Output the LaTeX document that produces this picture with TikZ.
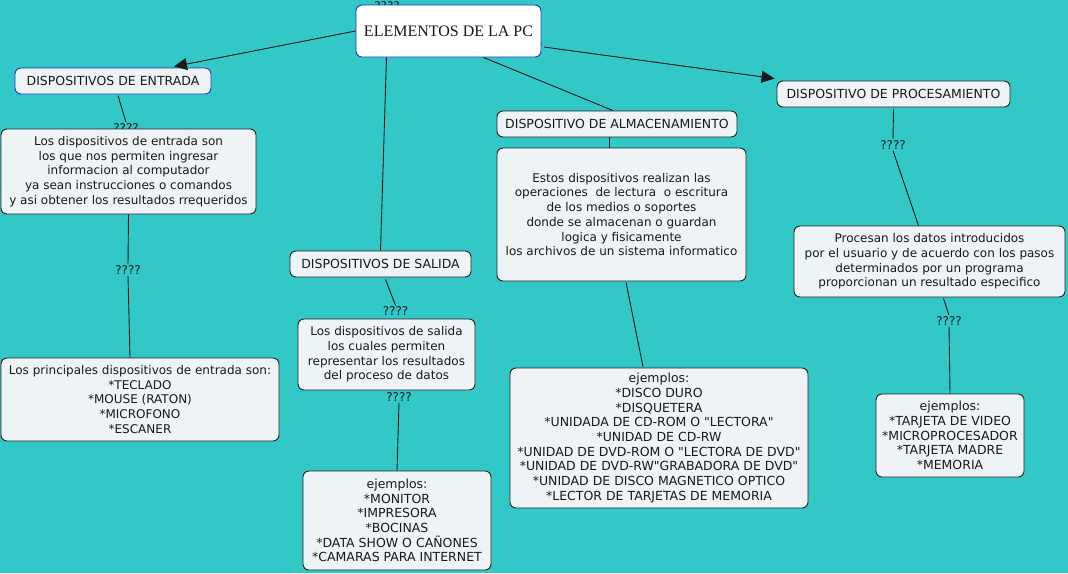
\documentclass[tikz,border=0pt]{standalone}
\usepackage{fontspec}
\setmainfont{DejaVu Sans}[Ligatures=TeXOff]
\newfontfamily\titlefont{Liberation Serif}
\usetikzlibrary{arrows.meta}
\definecolor{bgteal}{RGB}{51,200,200}
\definecolor{boxfill}{RGB}{238,244,246}
\definecolor{boxline}{RGB}{34,34,34}
\definecolor{blueline}{RGB}{25,55,190}
\definecolor{inkc}{RGB}{25,25,25}
\begin{document}
\begin{tikzpicture}[x=1pt,y=-1pt,
  concept/.style={draw=boxline,fill=boxfill,rounded corners=6pt,line width=0.9pt,
     inner sep=0pt,align=center,text=inkc,font=\fontsize{12}{14.7}\selectfont},
  capsbox/.style={concept,font=\fontsize{12.5}{14.7}\selectfont},
  bluebox/.style={capsbox,draw=blueline},
  linkph/.style={inner sep=1pt,text=inkc,font=\fontsize{12}{14}\selectfont},
  conn/.style={draw=inkc,line width=0.9pt},
  arr/.style={conn,-{Triangle[length=13pt,width=12pt]}}]
\useasboundingbox[fill=bgteal] (0,0) rectangle (1068,573);
% linking phrases (drawn first, some are partly covered by concepts)
\node[linkph] (qtop) at (387,6) {????};
\node[linkph] (qright) at (530,47) {????};
\node[linkph] (q1) at (126,128) {????};
\node[linkph] (q2) at (128,270) {????};
\node[linkph] (q3) at (395.5,311) {????};
\node[linkph] (q4) at (399,397) {????};
\node[linkph] (q5) at (893,145) {????};
\node[linkph] (q6) at (949,321) {????};
% concepts
\node[bluebox,fill=white,minimum width=185pt,minimum height=52pt,font=\titlefont\fontsize{16}{18}\selectfont] (main) at (448.5,31) {ELEMENTOS DE LA PC};
\node[bluebox,minimum width=196pt,minimum height=26pt] (ent) at (113,81) {DISPOSITIVOS DE ENTRADA};
\node[concept,minimum width=255pt,minimum height=85pt] (entd) at (128.5,171.5) {Los dispositivos de entrada son\\los que nos permiten ingresar\\informacion al computador\\ya sean instrucciones o comandos\\y asi obtener los resultados rrequeridos};
\node[concept,minimum width=278pt,minimum height=83pt] (entl) at (140,399.5) {Los principales dispositivos de entrada son:\\*TECLADO\\*MOUSE (RATON)\\*MICROFONO\\*ESCANER};
\node[capsbox,minimum width=181pt,minimum height=26pt] (sal) at (380.5,264) {DISPOSITIVOS DE SALIDA};
\node[concept,minimum width=177pt,minimum height=71pt] (sald) at (386.5,354.5) {Los dispositivos de salida\\los cuales permiten\\representar los resultados\\del proceso de datos};
\node[capsbox,minimum width=188pt,minimum height=99pt] (sall) at (397,520.5) {ejemplos:\\*MONITOR\\*IMPRESORA\\*BOCINAS\\*DATA SHOW O CAÑONES\\*CAMARAS PARA INTERNET};
\node[capsbox,minimum width=240pt,minimum height=26pt] (alm) at (617,124) {DISPOSITIVO DE ALMACENAMIENTO};
\node[concept,minimum width=249pt,minimum height=133pt] (almd) at (621.5,214.5) {Estos dispositivos realizan las\\operaciones\ \ de lectura\ \ o escritura\\de los medios o soportes\\donde se almacenan o guardan\\logica y fisicamente\\los archivos de un sistema informatico};
\node[capsbox,minimum width=298pt,minimum height=140pt] (alml) at (659,438) {ejemplos:\\*DISCO DURO\\*DISQUETERA\\*UNIDADA DE CD-ROM O "LECTORA"\\*UNIDAD DE CD-RW\\*UNIDAD DE DVD-ROM O "LECTORA DE DVD"\\*UNIDAD DE DVD-RW"GRABADORA DE DVD"\\*UNIDAD DE DISCO MAGNETICO OPTICO\\*LECTOR DE TARJETAS DE MEMORIA};
\node[capsbox,minimum width=233pt,minimum height=26pt] (proc) at (893.5,94) {DISPOSITIVO DE PROCESAMIENTO};
\node[concept,minimum width=271pt,minimum height=71pt] (procd) at (929.5,261.5) {Procesan los datos introducidos\\por el usuario y de acuerdo con los pasos\\determinados por un programa\\proporcionan un resultado especifico};
\node[capsbox,minimum width=148pt,minimum height=83pt] (procl) at (950,435.5) {ejemplos:\\*TARJETA DE VIDEO\\*MICROPROCESADOR\\*TARJETA MADRE\\*MEMORIA};
% connectors
\draw[arr] (main.west) -- ([xshift=61pt,yshift=1pt]ent.north);
\draw[arr] (qright.east) -- ([xshift=-2pt,yshift=2pt]proc.north west);
\draw[conn] ([xshift=-62pt]main.south) -- (sal.north);
\draw[conn] ([xshift=35pt]main.south) -- ([xshift=-4pt]alm.north);
\draw[conn] ([xshift=5pt,yshift=-1pt]ent.south) -- (q1.north);
\draw[conn] (entd.south) -- (q2.north);
\draw[conn] (q2.south) -- ([xshift=-10pt]entl.north);
\draw[conn] ([xshift=5pt,yshift=-2pt]sal.south) -- (q3.north);
\draw[conn] (q4.south) -- (sall.north);
\draw[conn] ([xshift=-8pt]alm.south) -- ([xshift=-12.5pt]almd.north);
\draw[conn] ([xshift=4.5pt,yshift=-1pt]almd.south) -- ([xshift=-16pt,yshift=1pt]alml.north);
\draw[conn] ([yshift=-2pt]proc.south) -- (q5.north);
\draw[conn] (q5.south) -- ([xshift=-11pt]procd.north);
\draw[conn] ([xshift=14pt,yshift=-1pt]procd.south) -- (q6.north);
\draw[conn] (q6.south) -- (procl.north);
\end{tikzpicture}
\end{document}
